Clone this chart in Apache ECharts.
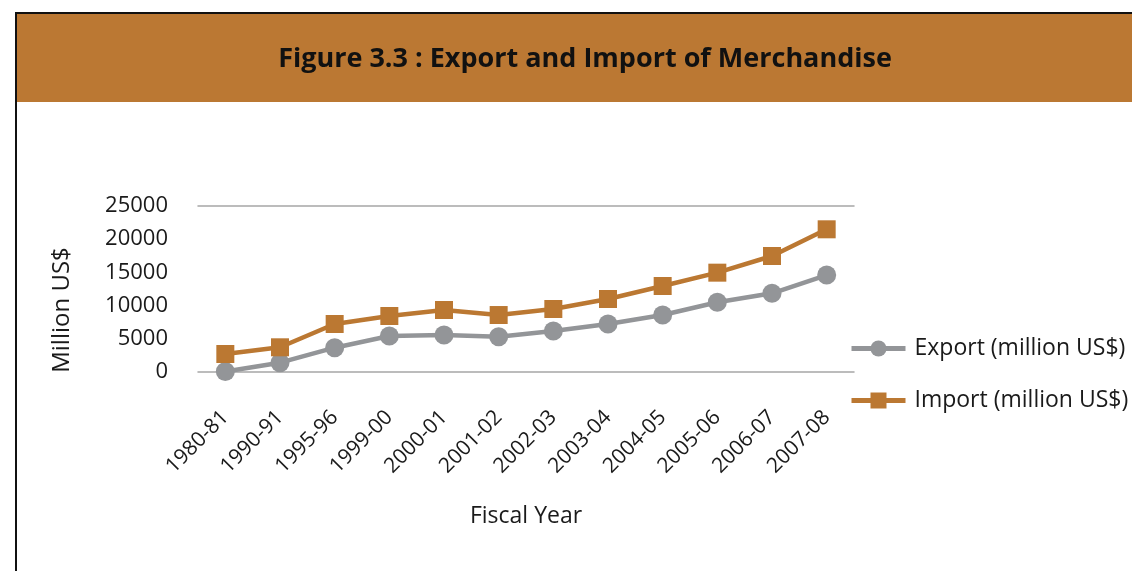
<!DOCTYPE html>
<html>
<head>
<meta charset="utf-8">
<style>
  html, body { margin: 0; padding: 0; background: #ffffff; }
  #chart { width: 1132px; height: 571px; }
</style>
<script src="https://cdn.jsdelivr.net/npm/echarts@6/dist/echarts.min.js"></script>
</head>
<body>
<div id="chart"></div>
<script>
// Fiscal years shown on the category axis
const fiscalYears = ['1980-81', '1990-91', '1995-96', '1999-00', '2000-01', '2001-02',
  '2002-03', '2003-04', '2004-05', '2005-06', '2006-07', '2007-08'];

// Merchandise trade, million US$
const exportValues = [80, 1400, 3660, 5420, 5570, 5320, 6170, 7230, 8580, 10500, 11850, 14600];
const importValues = [2710, 3720, 7230, 8430, 9340, 8580, 9490, 10990, 12950, 14960, 17470, 21490];

// Value axis ticks
const yTicks = [0, 5000, 10000, 15000, 20000, 25000];

const FONT = '"Open Sans", "Noto Sans", sans-serif';
const TEXT = '#1a1a1a';
const AXIS_GREY = '#a6a6a6';
const EXPORT_GREY = '#939598';
const IMPORT_BROWN = '#bb7832';

const chart = echarts.init(document.getElementById('chart'), null, { renderer: 'canvas' });

chart.setOption({
  backgroundColor: '#ffffff',
  animation: false,
  textStyle: { fontFamily: FONT },
  graphic: [
    // frame and header band
    { type: 'rect', z: 0, shape: { x: 16, y: 13, width: 1130, height: 570 },
      style: { fill: '#ffffff', stroke: '#111111', lineWidth: 2 } },
    { type: 'rect', z: 1, shape: { x: 17, y: 14, width: 1120, height: 88 },
      style: { fill: '#bb7833' } },
    { type: 'text', z: 5, x: 62, y: 310, rotation: Math.PI / 2,
      style: { text: 'Million US$', fill: TEXT, font: '24px ' + FONT,
        align: 'center', verticalAlign: 'middle' } }
  ],
  title: {
    text: 'Figure 3.3 : Export and Import of Merchandise',
    left: 580, top: 54, textAlign: 'center', textVerticalAlign: 'middle',
    textStyle: { fontFamily: FONT, fontWeight: 'bold', fontSize: 27, color: '#111111' }
  },
  legend: {
    orient: 'vertical',
    left: 844, top: 332,
    itemWidth: 54, itemHeight: 20, itemGap: 29,
    lineStyle: { width: 5 },
    textStyle: { fontFamily: FONT, fontSize: 23, color: TEXT, padding: [0, 0, 0, 4] },
    data: ['Export (million US$)', 'Import (million US$)']
  },
  grid: { left: 198, right: 278, top: 206, bottom: 199, containLabel: false },
  xAxis: [{
    type: 'category',
    data: fiscalYears,
    boundaryGap: true,
    name: 'Fiscal Year',
    nameLocation: 'middle',
    nameGap: 133,
    nameTextStyle: { fontFamily: FONT, fontSize: 23, color: TEXT },
    axisLine: { show: true, lineStyle: { color: AXIS_GREY, width: 1.5 } },
    axisTick: { show: false },
    axisLabel: { interval: 0, rotate: 45, margin: 42, fontFamily: FONT, fontSize: 21, color: TEXT }
  }, {
    type: 'category',
    data: fiscalYears,
    position: 'top',
    axisLine: { show: true, onZero: false, lineStyle: { color: AXIS_GREY, width: 1.5 } },
    axisTick: { show: false },
    axisLabel: { show: false }
  }],
  yAxis: {
    type: 'value',
    min: yTicks[0], max: yTicks[yTicks.length - 1], interval: 5000,
    axisLine: { show: false },
    axisTick: { show: false },
    splitLine: { show: false },
    axisLabel: { margin: 30, fontFamily: FONT, fontSize: 22, color: TEXT,
      formatter: (v) => String(v) }
  },
  series: [{
    name: 'Export (million US$)',
    type: 'line',
    data: exportValues,
    symbol: 'circle', symbolSize: 19,
    lineStyle: { color: EXPORT_GREY, width: 4.5 },
    itemStyle: { color: EXPORT_GREY },
    z: 3
  }, {
    name: 'Import (million US$)',
    type: 'line',
    data: importValues,
    symbol: 'rect', symbolSize: 18,
    lineStyle: { color: IMPORT_BROWN, width: 4.5 },
    itemStyle: { color: IMPORT_BROWN },
    z: 4
  }]
});
</script>
</body>
</html>
